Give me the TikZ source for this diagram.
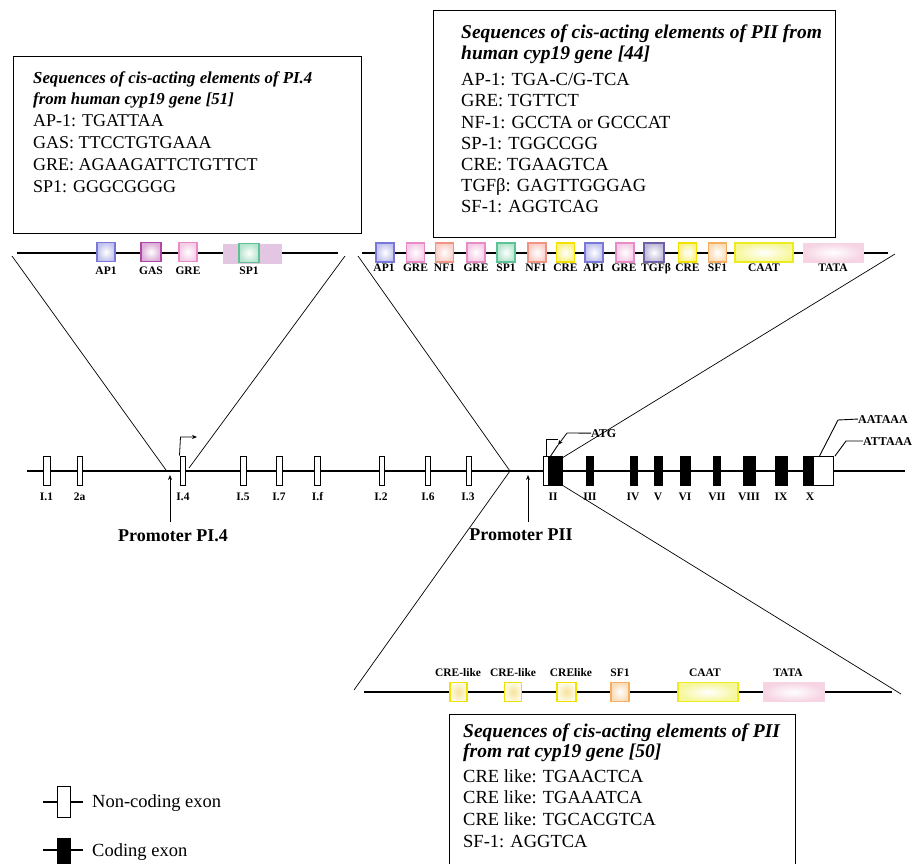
\documentclass[tikz,border=0pt]{standalone}
\usepackage{fontspec}
\setmainfont{Liberation Serif}
\usetikzlibrary{arrows.meta}
\newcommand\myfs[1]{\fontsize{#1}{#1}\selectfont}
\definecolor{apc}{HTML}{7878D8}
\definecolor{gasc}{HTML}{B048A8}
\definecolor{grec}{HTML}{E88CC8}
\definecolor{spc}{HTML}{5CC494}
\definecolor{nfc}{HTML}{F09484}
\definecolor{crec}{HTML}{F2E200}
\definecolor{tgfc}{HTML}{7060A8}
\definecolor{sfc}{HTML}{F4B060}
\definecolor{caatc}{HTML}{ECEC20}
\definecolor{tatac}{HTML}{F6D4E4}
\definecolor{spbg}{HTML}{E2C6E2}
\definecolor{creinner}{HTML}{F6E39C}
\definecolor{creouter}{HTML}{FFFAE4}
\tikzset{
 gene/.style={line width=1.5pt},
 diag/.style={line width=0.7pt},
 ptr/.style={line width=0.9pt},
 ncexon/.style={draw, fill=white, line width=1pt, inner sep=0, minimum height=29pt},
 cexon/.style={draw, fill=black, line width=1pt, inner sep=0, minimum height=29pt},
 exlab/.style={font=\bfseries\myfs{11.5}, anchor=base, inner sep=0},
 elem/.style={draw=#1, line width=1.3pt, inner color=white, outer color=#1!45, inner sep=0, minimum width=18pt, minimum height=19pt},
 crelike/.style={draw=crec, line width=1.3pt, inner color=creinner, outer color=creouter, inner sep=0, minimum width=17pt, minimum height=19pt},
 ellab/.style={font=\bfseries\myfs{11.5}, anchor=base, inner sep=0},
 infobox/.style={draw, line width=1.3pt, anchor=north west, inner sep=0},
 ttlA/.style={font=\bfseries\itshape\myfs{16.8}, anchor=base west, inner sep=0},
 txtA/.style={font=\myfs{18}, anchor=base west, inner sep=0},
 ttlB/.style={font=\bfseries\itshape\myfs{19.5}, anchor=base west, inner sep=0},
 txtB/.style={font=\myfs{18.5}, anchor=base west, inner sep=0},
 promlab/.style={font=\bfseries\myfs{18}, anchor=base, inner sep=0},
 smlab/.style={font=\bfseries\myfs{12}, anchor=base west, inner sep=0},
 arr/.style={-{Stealth[length=5pt,width=4pt]}, line width=0.8pt}
}
\begin{document}
\begin{tikzpicture}[x=1pt,y=-1pt]
\useasboundingbox (0,0) rectangle (916,863);

% ---------------- info boxes ----------------
\node[infobox, minimum width=348pt, minimum height=177pt] (boxA) at (13,56) {};
\node[ttlA] (a1) at (33,83) {Sequences of cis-acting elements of PI.4};
\node[ttlA] (a2) at (33,104) {from human cyp19 gene [51]};
\node[txtA] (a3) at (33,126) {AP-1: TGATTAA};
\node[txtA] (a4) at (33,148) {GAS: TTCCTGTGAAA};
\node[txtA] (a5) at (33,170) {GRE: AGAAGATTCTGTTCT};
\node[txtA] (a6) at (33,192) {SP1: GGGCGGGG};

\node[infobox, minimum width=402pt, minimum height=227pt] (boxB) at (433,10) {};
\node[ttlB] (b1) at (461,38) {Sequences of cis-acting elements of PII from};
\node[ttlB] (b2) at (461,59) {human cyp19 gene [44]};
\node[txtB] (b3) at (461,85) {AP-1: TGA-C/G-TCA};
\node[txtB] (b4) at (461,106) {GRE: TGTTCT};
\node[txtB] (b5) at (461,128) {NF-1: GCCTA or GCCCAT};
\node[txtB] (b6) at (461,149) {SP-1: TGGCCGG};
\node[txtB] (b7) at (461,170) {CRE: TGAAGTCA};
\node[txtB] (b8) at (461,191) {TGFβ: GAGTTGGGAG};
\node[txtB] (b9) at (461,212) {SF-1: AGGTCAG};

\node[infobox, minimum width=346pt, minimum height=180pt] (boxC) at (449,714) {};
\node[ttlB] (c1) at (463,737) {Sequences of cis-acting elements of PII};
\node[ttlB] (c2) at (463,757) {from rat cyp19 gene [50]};
\node[txtB] (c3) at (463,782) {CRE like: TGAACTCA};
\node[txtB] (c4) at (463,803) {CRE like: TGAAATCA};
\node[txtB] (c5) at (463,825) {CRE like: TGCACGTCA};
\node[txtB] (c6) at (463,847) {SF-1: AGGTCA};

% ---------------- PI.4 element line ----------------
\coordinate (pAL) at (17,253); \coordinate (pAR) at (338,253);
\draw[gene] (pAL) -- (pAR);
\node[fill=spbg, inner sep=0, minimum width=59pt, minimum height=20pt] (spbgA) at (252.5,254) {};
\node[elem=apc] (eA1) at (106,252) {};
\node[elem=gasc, minimum width=20pt] (eA2) at (151,252) {};
\node[elem=grec] (eA3) at (188,252) {};
\node[elem=spc, minimum width=20pt] (eA4) at (249,253) {};
\node[ellab] (lA1) at (106,274) {AP1};
\node[ellab] (lA2) at (151,274) {GAS};
\node[ellab] (lA3) at (188,274) {GRE};
\node[ellab] (lA4) at (249,274) {SP1};

% ---------------- PII human element line ----------------
\coordinate (pBL) at (362,253); \coordinate (pBR) at (888,253);
\draw[gene] (pBL) -- (pBR);
\node[elem=apc] (eB1) at (385,252.5) {};
\node[elem=grec] (eB2) at (415.5,252.5) {};
\node[elem=nfc] (eB3) at (444.5,252.5) {};
\node[elem=grec] (eB4) at (476,252.5) {};
\node[elem=spc] (eB5) at (506,252.5) {};
\node[elem=nfc] (eB6) at (537,252.5) {};
\node[elem=crec] (eB7) at (565.5,252.5) {};
\node[elem=apc] (eB8) at (594,252.5) {};
\node[elem=grec] (eB9) at (625,252.5) {};
\node[elem=tgfc, minimum width=20pt] (eB10) at (654,252.5) {};
\node[elem=crec] (eB11) at (687.5,252.5) {};
\node[elem=sfc] (eB12) at (717.5,252.5) {};
\node[elem=caatc, minimum width=58pt] (eB13) at (764,252.5) {};
\node[draw=tatac, line width=1pt, inner color=white, outer color=tatac, inner sep=0, minimum width=60pt, minimum height=19pt] (eB14) at (833,252.5) {};
\node[ellab] (lB1) at (384,271) {AP1};
\node[ellab] (lB2) at (415.5,271) {GRE};
\node[ellab] (lB3) at (444.5,271) {NF1};
\node[ellab] (lB4) at (476,271) {GRE};
\node[ellab] (lB5) at (506,271) {SP1};
\node[ellab] (lB6) at (536,271) {NF1};
\node[ellab] (lB7) at (565.5,271) {CRE};
\node[ellab] (lB8) at (594,271) {AP1};
\node[ellab] (lB9) at (624,271) {GRE};
\node[ellab] (lB10) at (656,271) {TGFβ};
\node[ellab] (lB11) at (687.5,271) {CRE};
\node[ellab] (lB12) at (717.5,271) {SF1};
\node[ellab] (lB13) at (764,271) {CAAT};
\node[ellab] (lB14) at (833,271) {TATA};

% ---------------- PII rat element line ----------------
\coordinate (pCL) at (364,692); \coordinate (pCR) at (892,692);
\draw[gene] (pCL) -- (pCR);
\node[crelike] (eC1) at (458.5,692) {};
\node[crelike] (eC2) at (513,692) {};
\node[crelike, minimum width=19pt] (eC3) at (566.5,692) {};
\node[elem=sfc] (eC4) at (620,692) {};
\node[elem=caatc, minimum width=60pt] (eC5) at (708,692) {};
\node[draw=tatac, line width=1pt, inner color=white, outer color=tatac, inner sep=0, minimum width=61pt, minimum height=19pt] (eC6) at (793.5,692) {};
\node[ellab] (lC1) at (458,676) {CRE-like};
\node[ellab] (lC2) at (513,676) {CRE-like};
\node[ellab] (lC3) at (571,676) {CRElike};
\node[ellab] (lC4) at (620,676) {SF1};
\node[ellab] (lC5) at (705,676) {CAAT};
\node[ellab] (lC6) at (788,676) {TATA};

% ---------------- expansion lines ----------------
\coordinate (tA1) at (12,256); \coordinate (tA2) at (166,470);
\coordinate (tA3) at (345,256); \coordinate (tA4) at (189,468);
\draw[diag] (tA1) -- (tA2);
\draw[diag] (tA3) -- (tA4);
\coordinate (tB1) at (358,256); \coordinate (tB2) at (510,471); \coordinate (tB3) at (354,690);
\draw[diag] (tB1) -- (tB2) -- (tB3);
\coordinate (tB4) at (895,254); \coordinate (tB5) at (562,458);
\draw[diag] (tB4) -- (tB5);
\coordinate (tB6) at (562,485); \coordinate (tB7) at (901,694);
\draw[diag] (tB6) -- (tB7);

% ---------------- gene ----------------
\coordinate (gL) at (27,471); \coordinate (gR) at (905,471);
\draw[gene] (gL) -- (gR);
\node[ncexon, minimum width=7pt] (xI1) at (46.5,470.5) {};
\node[ncexon, minimum width=5pt] (x2a) at (79.5,470.5) {};
\node[ncexon, minimum width=5pt] (xI4) at (182.5,470.5) {};
\node[ncexon, minimum width=6pt] (xI5) at (243,470.5) {};
\node[ncexon, minimum width=6pt] (xI7) at (279,470.5) {};
\node[ncexon, minimum width=6pt] (xIf) at (317,470.5) {};
\node[ncexon, minimum width=5pt] (xI2) at (381.5,470.5) {};
\node[ncexon, minimum width=5pt] (xI6) at (427.5,470.5) {};
\node[ncexon, minimum width=5pt] (xI3) at (468.5,470.5) {};
\node[ncexon, minimum width=19pt] (xII) at (552.5,471) {};
\node[cexon, minimum width=14pt] (xIIc) at (555,471) {};
\node[cexon, minimum width=7pt] (xIII) at (589.5,471) {};
\node[cexon, minimum width=7pt] (xIV) at (633.5,471) {};
\node[cexon, minimum width=8pt] (xV) at (658,471) {};
\node[cexon, minimum width=10pt] (xVI) at (685,471) {};
\node[cexon, minimum width=7pt] (xVII) at (716.5,471) {};
\node[cexon, minimum width=12pt] (xVIII) at (749,471) {};
\node[cexon, minimum width=12pt] (xIX) at (781,471) {};
\node[ncexon, minimum width=30pt] (xX) at (818,471) {};
\node[cexon, minimum width=10pt] (xXc) at (808,471) {};

\node[exlab] (nI1) at (46.5,500) {I.1};
\node[exlab] (n2a) at (79.5,500) {2a};
\node[exlab] (nI4) at (183,500) {I.4};
\node[exlab] (nI5) at (243,500) {I.5};
\node[exlab] (nI7) at (279,500) {I.7};
\node[exlab] (nIf) at (317.5,500) {I.f};
\node[exlab] (nI2) at (381,500) {I.2};
\node[exlab] (nI6) at (428,500) {I.6};
\node[exlab] (nI3) at (468,500) {I.3};
\node[exlab] (nII) at (553,500) {II};
\node[exlab] (nIII) at (590,500) {III};
\node[exlab] (nIV) at (633,500) {IV};
\node[exlab] (nV) at (658,500) {V};
\node[exlab] (nVI) at (685,500) {VI};
\node[exlab] (nVII) at (717,500) {VII};
\node[exlab] (nVIII) at (749,500) {VIII};
\node[exlab] (nIX) at (781,500) {IX};
\node[exlab] (nX) at (810,500) {X};

% transcription start arrows
\coordinate (sA1) at (180.5,437); \coordinate (sA2) at (197,437);
\draw[arr] (xI4.north west) -- (sA1) -- (sA2);
\coordinate (sB1) at (546,439); \coordinate (sB2) at (558,439);
\draw[ptr] (546,457) -- (sB1) -- (sB2);

% ATG pointer
\node[smlab] (atg) at (591,437) {ATG};
\coordinate (atg1) at (567,433); \coordinate (atg2) at (558,445); \coordinate (atg3) at (550,457);
\draw[ptr] (atg.west) -- (atg1);
\draw[arr] (atg1) -- (atg2);
\draw[ptr] (atg2) -- (atg3);

% polyA pointers
\node[smlab] (aat) at (858,423) {AATAAA};
\coordinate (aat1) at (838,420); \coordinate (aat2) at (819,457);
\draw[ptr] (aat.west) -- (aat1) -- (aat2);
\node[smlab] (att) at (863,445) {ATTAAA};
\coordinate (att1) at (846,441); \coordinate (att2) at (835,456);
\draw[ptr] (att.west) -- (att1) -- (att2);

% promoters
\node[promlab] (pPI4) at (173,541) {Promoter PI.4};
\coordinate (pa1) at (170,522); \coordinate (pa2) at (170,475);
\draw[arr] (pa1) -- (pa2);
\node[promlab] (pPII) at (521,540) {Promoter PII};
\coordinate (pb1) at (528,522); \coordinate (pb2) at (528,475);
\draw[arr] (pb1) -- (pb2);

% legend
\coordinate (lg1) at (43,802); \coordinate (lg2) at (83,802);
\draw[gene] (lg1) -- (lg2);
\node[ncexon, minimum width=13pt, minimum height=31pt] (lgnc) at (63.5,801.5) {};
\node[txtB] (lgt1) at (92,807) {Non-coding exon};
\coordinate (lg3) at (43,850); \coordinate (lg4) at (83,850);
\draw[gene] (lg3) -- (lg4);
\node[cexon, minimum width=13pt, minimum height=32pt] (lgc) at (63.5,854) {};
\node[txtB] (lgt2) at (92,856) {Coding exon};
\end{tikzpicture}
\end{document}
